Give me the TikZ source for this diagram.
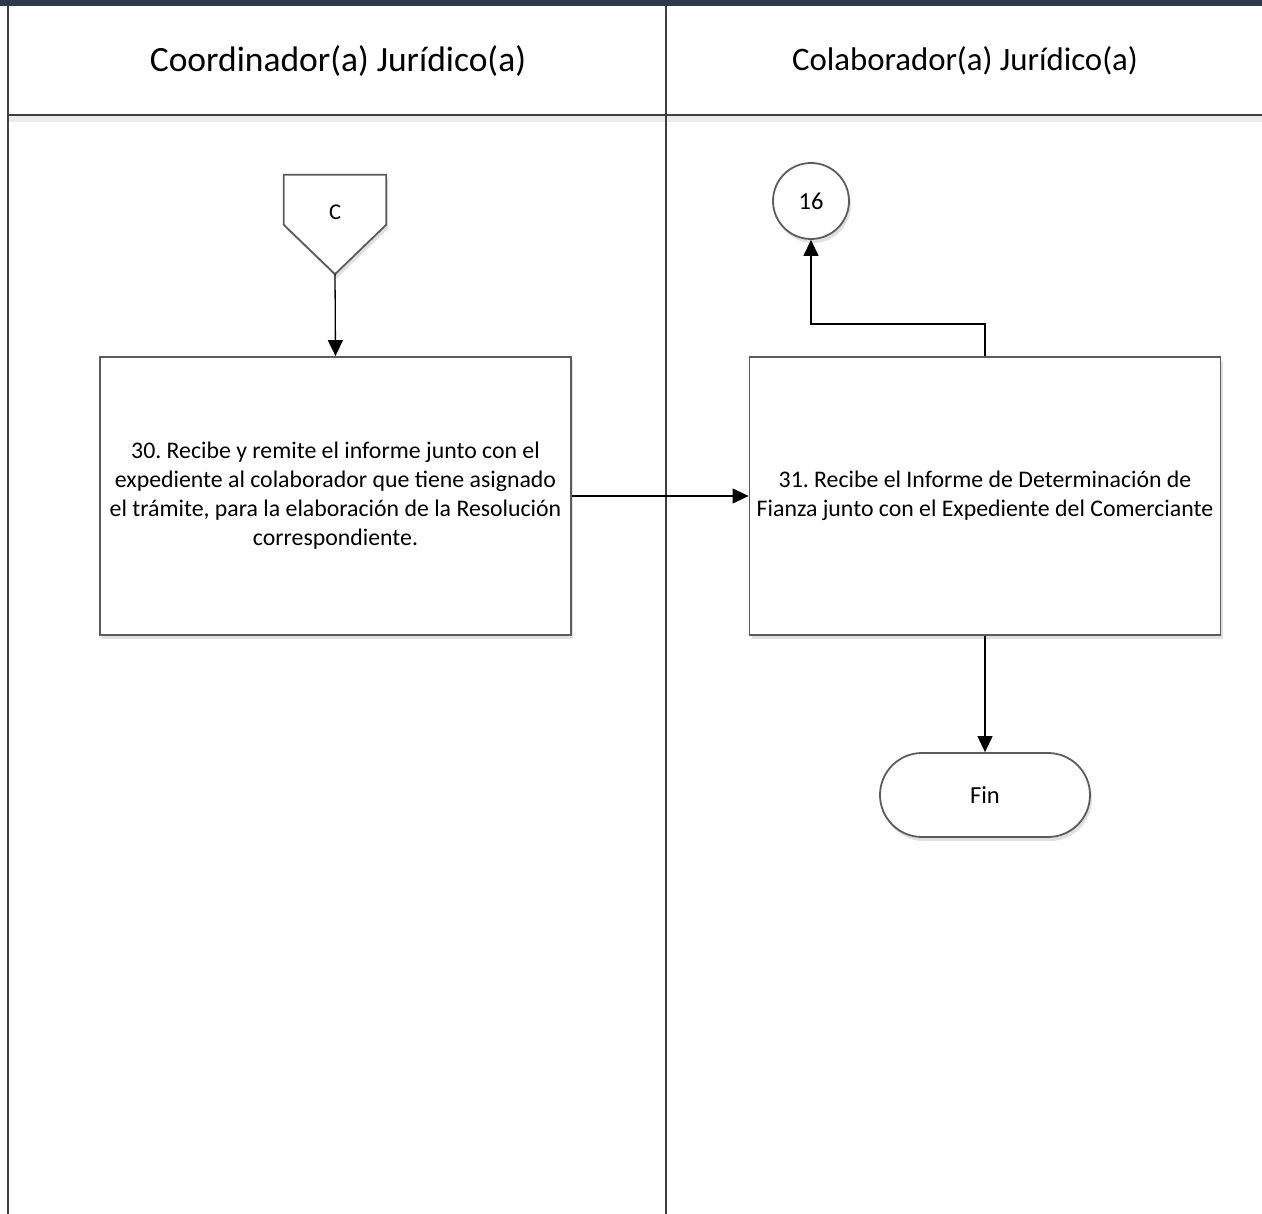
\documentclass[tikz,border=0pt]{standalone}
\usepackage{fontspec}
\setmainfont{Carlito}
\frenchspacing
\usetikzlibrary{
	arrows.meta,
	calc,
	positioning,
	shapes.misc,
	shadows,
}
\definecolor{band}{HTML}{2E3A4C}
\definecolor{edge}{HTML}{5C5C5C}
\definecolor{lane}{HTML}{3F3F3F}
\tikzset{soft shadow/.style={drop shadow={shadow xshift=2pt,shadow yshift=-4pt,fill=black,opacity=0.12}}}
\tikzset{stepbox/.style={draw=edge,fill=white,line width=1.8pt,soft shadow,minimum width=471,minimum height=278,align=center,inner sep=0pt,font=\fontsize{23.8}{29}\selectfont}}
\tikzset{connector/.style={draw=edge,fill=white,line width=1.8pt,soft shadow,circle,minimum size=76,inner sep=0pt,font=\fontsize{24.5}{28}\selectfont}}
\tikzset{terminal/.style={draw=edge,fill=white,line width=1.8pt,soft shadow,rounded rectangle,minimum width=210,minimum height=84,inner sep=0pt,font=\fontsize{24.5}{28}\selectfont}}
\tikzset{lanetitle/.style={font=\fontsize{35.5}{40}\selectfont}}
\tikzset{lanerule/.style={draw=lane,line width=2.6pt}}
\tikzset{
	>={Triangle[length=16pt,width=15pt]},
	flow/.style={->,line width=1.3pt,black},
}

\begin{document}
\begin{tikzpicture}[x=1pt,y=-1pt]
\useasboundingbox (0,0) rectangle (1262,1214);

% lanes
\fill[band] (0,0) rectangle (1262,6);
\draw[line width=6pt,black!8] (8,119) -- (1262,119);
\draw[lanerule] (8,115) -- (1262,115);
\foreach \x in {8,666}{
	\draw[lanerule] (\x,6) -- (\x,1214);
}
\node[lanetitle] (t1) at (338,61) {Coordinador(a) Jurídico(a)};
\node[lanetitle,font=\fontsize{32.8}{38}\selectfont] (t2) at (965,61) {Colaborador(a) Jurídico(a)};

% shapes
\node[minimum width=102,minimum height=99,inner sep=0pt] (C) at (335,224.5) {};
\draw[draw=edge,fill=white,line width=1.8pt,soft shadow] (C.north west) -- (C.north east) -- ++(0,50) -- (C.south) -- ($(C.north west)+(0,50)$) -- cycle;
\node[font=\fontsize{22.5}{26}\selectfont] (Ct) at (335,212) {C};

\node[stepbox] (r30) at (335.5,496) {30. Recibe y remite el informe junto con el\\expediente al colaborador que tiene asignado\\el trámite, para la elaboración de la Resolución\\correspondiente.};
\node[stepbox] (r31) at (985,496) {31. Recibe el Informe de Determinación de\\Fianza junto con el Expediente del Comerciante};
\node[connector] (n16) at (811,201) {16};
\node[terminal] (fin) at (985,795) {Fin};

% flow
\draw[flow] (C.south) -- (r30.north);
\draw[flow] (r30.east) -- (r31.west);
\draw[flow] (r31.north) -- ++(0,-32) -| (n16.south);
\draw[flow] (r31.south) -- (fin.north);

\end{tikzpicture}
\end{document}
